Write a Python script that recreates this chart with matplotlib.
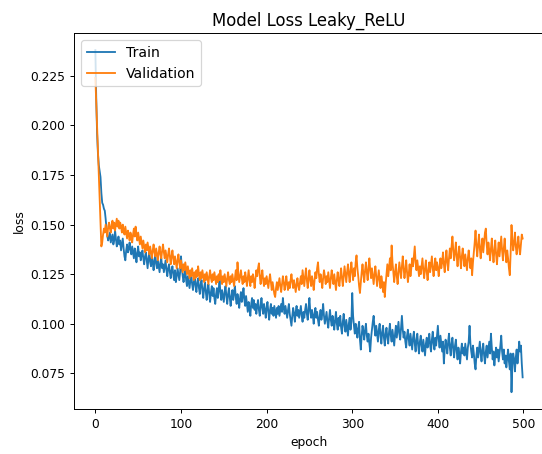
import matplotlib
matplotlib.use("Agg")
import matplotlib.pyplot as plt
import numpy as np

# Loss per epoch
train_loss = [
    0.238, 0.214, 0.196, 0.186, 0.180, 0.177, 0.174, 0.166, 0.161, 0.160,
    0.158, 0.157, 0.153, 0.148, 0.144, 0.142, 0.144, 0.146, 0.141, 0.143,
    0.145, 0.140, 0.142, 0.147, 0.143, 0.139, 0.141, 0.144, 0.140, 0.142,
    0.137, 0.140, 0.143, 0.138, 0.134, 0.132, 0.137, 0.140, 0.136, 0.138,
    0.141, 0.137, 0.135, 0.139, 0.136, 0.133, 0.138, 0.135, 0.131, 0.136,
    0.139, 0.134, 0.136, 0.132, 0.135, 0.137, 0.133, 0.130, 0.134, 0.136,
    0.132, 0.128, 0.133, 0.136, 0.131, 0.129, 0.134, 0.131, 0.127, 0.132,
    0.135, 0.130, 0.128, 0.132, 0.129, 0.126, 0.131, 0.133, 0.128, 0.130,
    0.126, 0.129, 0.132, 0.127, 0.124, 0.128, 0.130, 0.126, 0.123, 0.127,
    0.129, 0.125, 0.122, 0.127, 0.121, 0.124, 0.128, 0.125, 0.122, 0.126,
    0.134, 0.128, 0.124, 0.121, 0.125, 0.127, 0.122, 0.119, 0.124, 0.121,
    0.118, 0.122, 0.125, 0.120, 0.117, 0.121, 0.124, 0.119, 0.116, 0.121,
    0.123, 0.118, 0.115, 0.120, 0.122, 0.117, 0.113, 0.118, 0.121, 0.116,
    0.112, 0.117, 0.120, 0.115, 0.111, 0.116, 0.119, 0.114, 0.118, 0.113,
    0.110, 0.115, 0.118, 0.113, 0.117, 0.122, 0.116, 0.112, 0.117, 0.114,
    0.111, 0.116, 0.119, 0.114, 0.110, 0.115, 0.118, 0.113, 0.109, 0.114,
    0.117, 0.112, 0.116, 0.119, 0.113, 0.110, 0.115, 0.112, 0.108, 0.113,
    0.116, 0.111, 0.114, 0.118, 0.112, 0.109, 0.114, 0.110, 0.106, 0.111,
    0.108, 0.104, 0.110, 0.113, 0.108, 0.112, 0.107, 0.110, 0.105, 0.109,
    0.112, 0.107, 0.104, 0.109, 0.113, 0.108, 0.105, 0.110, 0.107, 0.103,
    0.108, 0.111, 0.106, 0.102, 0.107, 0.110, 0.105, 0.108, 0.104, 0.109,
    0.106, 0.103, 0.108, 0.105, 0.109, 0.104, 0.107, 0.110, 0.106, 0.113,
    0.108, 0.105, 0.109, 0.106, 0.103, 0.107, 0.110, 0.105, 0.102, 0.099,
    0.104, 0.108, 0.105, 0.101, 0.106, 0.109, 0.104, 0.107, 0.103, 0.106,
    0.109, 0.104, 0.101, 0.106, 0.103, 0.107, 0.110, 0.105, 0.102, 0.108,
    0.113, 0.106, 0.103, 0.107, 0.104, 0.100, 0.105, 0.108, 0.103, 0.106,
    0.102, 0.099, 0.104, 0.107, 0.102, 0.105, 0.110, 0.104, 0.100, 0.103,
    0.106, 0.101, 0.098, 0.103, 0.107, 0.102, 0.099, 0.104, 0.101, 0.097,
    0.102, 0.106, 0.100, 0.097, 0.103, 0.099, 0.104, 0.098, 0.095, 0.101,
    0.105, 0.099, 0.096, 0.102, 0.098, 0.094, 0.100, 0.103, 0.097, 0.101,
    0.1155, 0.104, 0.099, 0.095, 0.100, 0.097, 0.093, 0.098, 0.101, 0.092,
    0.087, 0.094, 0.099, 0.096, 0.092, 0.097, 0.100, 0.094, 0.091, 0.095,
    0.090, 0.086, 0.093, 0.097, 0.101, 0.104, 0.098, 0.094, 0.099, 0.095,
    0.091, 0.097, 0.100, 0.094, 0.090, 0.096, 0.099, 0.093, 0.089, 0.095,
    0.098, 0.093, 0.090, 0.096, 0.100, 0.094, 0.091, 0.097, 0.093, 0.089,
    0.095, 0.099, 0.093, 0.097, 0.101, 0.095, 0.092, 0.098, 0.104, 0.097,
    0.093, 0.096, 0.091, 0.088, 0.094, 0.097, 0.092, 0.089, 0.095, 0.091,
    0.087, 0.093, 0.096, 0.090, 0.086, 0.092, 0.095, 0.089, 0.085, 0.091,
    0.094, 0.089, 0.086, 0.092, 0.088, 0.084, 0.090, 0.093, 0.088, 0.091,
    0.095, 0.089, 0.086, 0.092, 0.096, 0.090, 0.087, 0.093, 0.089, 0.094,
    0.099, 0.092, 0.088, 0.094, 0.090, 0.086, 0.091, 0.080, 0.087, 0.092,
    0.089, 0.085, 0.091, 0.095, 0.088, 0.084, 0.090, 0.093, 0.087, 0.083,
    0.089, 0.092, 0.086, 0.082, 0.088, 0.085, 0.080, 0.086, 0.090, 0.085,
    0.088, 0.084, 0.090, 0.086, 0.082, 0.088, 0.091, 0.099, 0.090, 0.086,
    0.083, 0.089, 0.085, 0.080, 0.077, 0.084, 0.088, 0.083, 0.087, 0.091,
    0.085, 0.081, 0.087, 0.090, 0.084, 0.080, 0.086, 0.089, 0.083, 0.087,
    0.091, 0.085, 0.095, 0.088, 0.082, 0.086, 0.079, 0.084, 0.088, 0.083,
    0.087, 0.081, 0.085, 0.089, 0.094, 0.086, 0.082, 0.087, 0.080, 0.084,
    0.078, 0.083, 0.087, 0.081, 0.077, 0.085, 0.0655, 0.079, 0.085, 0.082,
    0.076, 0.083, 0.087, 0.080, 0.085, 0.091, 0.086, 0.089, 0.080, 0.073,
]

val_loss = [
    0.224, 0.212, 0.200, 0.188, 0.176, 0.163, 0.151, 0.139, 0.141, 0.145,
    0.148, 0.146, 0.150, 0.147, 0.144, 0.149, 0.151, 0.148, 0.146, 0.150,
    0.152, 0.148, 0.151, 0.147, 0.150, 0.153, 0.149, 0.152, 0.148, 0.151,
    0.149, 0.146, 0.150, 0.147, 0.145, 0.149, 0.146, 0.143, 0.147, 0.145,
    0.142, 0.146, 0.144, 0.141, 0.145, 0.148, 0.144, 0.149, 0.145, 0.142,
    0.146, 0.143, 0.140, 0.144, 0.141, 0.138, 0.142, 0.139, 0.136, 0.140,
    0.137, 0.141, 0.138, 0.135, 0.139, 0.136, 0.133, 0.137, 0.140, 0.136,
    0.134, 0.138, 0.135, 0.132, 0.136, 0.139, 0.135, 0.133, 0.137, 0.140,
    0.136, 0.133, 0.137, 0.134, 0.131, 0.135, 0.138, 0.134, 0.130, 0.134,
    0.137, 0.133, 0.130, 0.134, 0.131, 0.128, 0.132, 0.135, 0.131, 0.128,
    0.132, 0.129, 0.126, 0.130, 0.127, 0.131, 0.128, 0.125, 0.129, 0.126,
    0.123, 0.127, 0.124, 0.128, 0.125, 0.122, 0.126, 0.123, 0.127, 0.124,
    0.129, 0.125, 0.122, 0.126, 0.123, 0.127, 0.124, 0.121, 0.125, 0.122,
    0.126, 0.123, 0.120, 0.124, 0.127, 0.123, 0.121, 0.125, 0.122, 0.126,
    0.123, 0.120, 0.124, 0.121, 0.125, 0.122, 0.127, 0.123, 0.120, 0.124,
    0.121, 0.125, 0.122, 0.119, 0.123, 0.126, 0.122, 0.120, 0.124, 0.121,
    0.125, 0.122, 0.119, 0.123, 0.127, 0.122, 0.131, 0.125, 0.121, 0.124,
    0.127, 0.123, 0.120, 0.124, 0.121, 0.126, 0.123, 0.119, 0.123, 0.127,
    0.122, 0.119, 0.124, 0.121, 0.125, 0.122, 0.118, 0.123, 0.127, 0.124,
    0.128, 0.1305, 0.124, 0.120, 0.124, 0.127, 0.122, 0.119, 0.123, 0.120,
    0.124, 0.121, 0.118, 0.122, 0.125, 0.121, 0.117, 0.121, 0.118, 0.115,
    0.1135, 0.118, 0.121, 0.117, 0.120, 0.123, 0.119, 0.116, 0.120, 0.124,
    0.121, 0.117, 0.120, 0.124, 0.120, 0.117, 0.121, 0.118, 0.122, 0.125,
    0.121, 0.118, 0.122, 0.119, 0.116, 0.120, 0.123, 0.119, 0.117, 0.121,
    0.124, 0.120, 0.127, 0.123, 0.119, 0.124, 0.128, 0.122, 0.118, 0.123,
    0.127, 0.122, 0.119, 0.124, 0.121, 0.117, 0.122, 0.126, 0.123, 0.128,
    0.131, 0.125, 0.121, 0.125, 0.122, 0.118, 0.123, 0.127, 0.124, 0.120,
    0.124, 0.121, 0.126, 0.122, 0.118, 0.123, 0.127, 0.123, 0.120, 0.125,
    0.121, 0.117, 0.122, 0.126, 0.122, 0.119, 0.124, 0.128, 0.123, 0.119,
    0.124, 0.129, 0.125, 0.121, 0.126, 0.130, 0.125, 0.121, 0.127, 0.131,
    0.126, 0.122, 0.128, 0.124, 0.131, 0.1345, 0.128, 0.124, 0.119, 0.1155,
    0.121, 0.126, 0.130, 0.125, 0.121, 0.127, 0.131, 0.126, 0.122, 0.128,
    0.133, 0.127, 0.123, 0.128, 0.124, 0.120, 0.125, 0.129, 0.124, 0.119,
    0.123, 0.127, 0.122, 0.118, 0.124, 0.121, 0.116, 0.121, 0.1135, 0.120,
    0.125, 0.130, 0.124, 0.128, 0.133, 0.127, 0.1395, 0.131, 0.126, 0.121,
    0.126, 0.130, 0.124, 0.120, 0.126, 0.131, 0.127, 0.123, 0.129, 0.134,
    0.128, 0.123, 0.127, 0.132, 0.126, 0.121, 0.125, 0.130, 0.124, 0.128,
    0.133, 0.129, 0.134, 0.139, 0.131, 0.127, 0.132, 0.128, 0.124, 0.129,
    0.125, 0.129, 0.133, 0.127, 0.123, 0.128, 0.132, 0.126, 0.122, 0.127,
    0.131, 0.126, 0.130, 0.134, 0.128, 0.124, 0.129, 0.133, 0.127, 0.131,
    0.128, 0.124, 0.129, 0.133, 0.128, 0.131, 0.136, 0.130, 0.126, 0.132,
    0.137, 0.131, 0.127, 0.133, 0.138, 0.133, 0.139, 0.144, 0.137, 0.132,
    0.136, 0.141, 0.134, 0.129, 0.135, 0.139, 0.133, 0.128, 0.134, 0.138,
    0.133, 0.129, 0.135, 0.131, 0.127, 0.133, 0.137, 0.132, 0.128, 0.133,
    0.1245, 0.131, 0.136, 0.141, 0.147, 0.139, 0.134, 0.140, 0.145, 0.138,
    0.133, 0.139, 0.143, 0.136, 0.141, 0.146, 0.148, 0.140, 0.135, 0.141,
    0.137, 0.132, 0.138, 0.143, 0.136, 0.131, 0.137, 0.142, 0.135, 0.130,
    0.136, 0.141, 0.134, 0.139, 0.144, 0.137, 0.132, 0.138, 0.143, 0.136,
    0.131, 0.137, 0.133, 0.128, 0.1245, 0.136, 0.1498, 0.142, 0.137, 0.141,
    0.146, 0.139, 0.135, 0.140, 0.144, 0.138, 0.135, 0.140, 0.145, 0.143,
]

epochs = np.arange(len(train_loss))

fig = plt.figure(figsize=(542 / 88, 454 / 88), dpi=88)
# axes runs past the right edge, like the cropped original
ax = fig.add_axes([74 / 542, 44.7 / 454, 470 / 542, 376.3 / 454])

ax.plot(epochs, train_loss, label="Train")
ax.plot(epochs, val_loss, label="Validation")

ax.set_title("Model Loss Leaky_ReLU", fontsize=13.5)
ax.set_xlabel("epoch")
ax.set_ylabel("loss")
ax.spines["right"].set_visible(False)
ax.legend(loc="upper left", fontsize=11.5)

fig.savefig("out.png", dpi=88)
